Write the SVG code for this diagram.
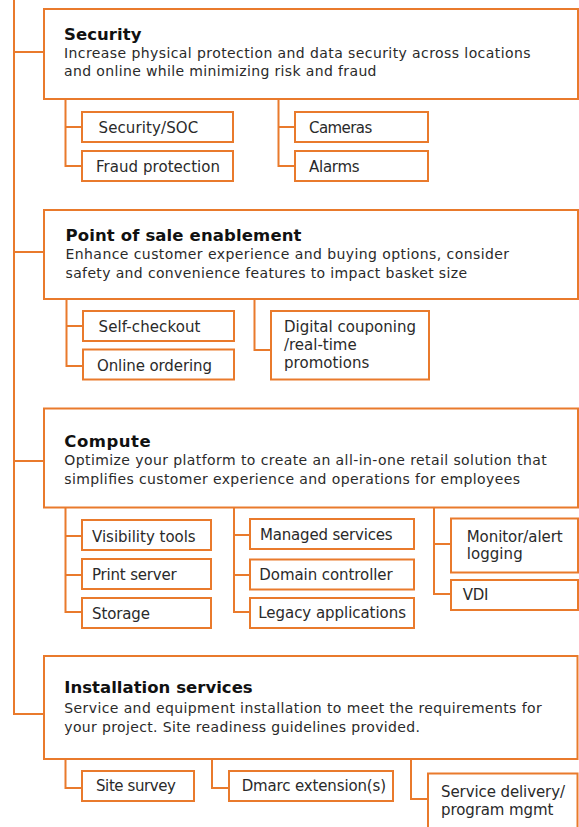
<svg xmlns="http://www.w3.org/2000/svg" width="579" height="827" viewBox="0 0 579 827">
<style>
.box{fill:#fff;stroke:#E97A2C;stroke-width:2}
.ln{fill:none;stroke:#E97A2C;stroke-width:2}
text{font-family:"DejaVu Sans","Open Sans",sans-serif}
.t{font-size:16.5px;font-weight:bold;fill:#111}
.d{font-size:14px;fill:#2a2a2a}
.i{font-size:15px;fill:#2a2a2a}
</style>
<rect width="579" height="827" fill="#fff"/>
<g id="connectors">
<path class="ln" d="M14,0 V714 H44"/>
<path class="ln" d="M14,52 H44 M14,252 H44 M14,461 H44"/>
<path class="ln" d="M65.5,99 V166 H82 M65.5,127 H82"/>
<path class="ln" d="M278.5,99 V166 H295 M278.5,127 H295"/>
<path class="ln" d="M66.5,299 V366 H83 M66.5,326 H83"/>
<path class="ln" d="M254.5,299 V350 H271"/>
<path class="ln" d="M65.5,507 V612 H82 M65.5,536 H82 M65.5,575 H82"/>
<path class="ln" d="M234,507 V612 H250 M234,535 H250 M234,575 H250"/>
<path class="ln" d="M434,507 V594 H451 M434,544 H451"/>
<path class="ln" d="M65.5,759 V788 H82"/>
<path class="ln" d="M212,759 V788 H229"/>
<path class="ln" d="M411,759 V799 H428"/>
</g>
<g id="security">
<rect class="box" x="44" y="9" width="534" height="90"/>
<text class="t" x="64" y="39.5" textLength="77.5" lengthAdjust="spacing">Security</text>
<text class="d" x="64" y="57.7" textLength="466.5" lengthAdjust="spacing">Increase physical protection and data security across locations</text>
<text class="d" x="64" y="76" textLength="312.5" lengthAdjust="spacing">and online while minimizing risk and fraud</text>
</g>
<g id="security-soc"><rect class="box" x="82" y="112" width="151" height="30"/><text class="i" x="98.5" y="133" textLength="99.7" lengthAdjust="spacing">Security/SOC</text></g>
<g id="fraud-protection"><rect class="box" x="82" y="151" width="151" height="30"/><text class="i" x="96" y="172" textLength="124" lengthAdjust="spacing">Fraud protection</text></g>
<g id="cameras"><rect class="box" x="295" y="112" width="133" height="30"/><text class="i" x="309" y="133" textLength="63.3" lengthAdjust="spacing">Cameras</text></g>
<g id="alarms"><rect class="box" x="295" y="151" width="133" height="30"/><text class="i" x="309" y="172" textLength="50.7" lengthAdjust="spacing">Alarms</text></g>
<g id="pos">
<rect class="box" x="44" y="210" width="534" height="89"/>
<text class="t" x="65.5" y="240.7" textLength="236" lengthAdjust="spacing">Point of sale enablement</text>
<text class="d" x="65.5" y="259.3" textLength="443.6" lengthAdjust="spacing">Enhance customer experience and buying options, consider</text>
<text class="d" x="65.5" y="278.3" textLength="401.6" lengthAdjust="spacing">safety and convenience features to impact basket size</text>
</g>
<g id="self-checkout"><rect class="box" x="83" y="311" width="151" height="30"/><text class="i" x="98.5" y="331.7" textLength="102" lengthAdjust="spacing">Self-checkout</text></g>
<g id="online-ordering"><rect class="box" x="83" y="349.5" width="151" height="30"/><text class="i" x="97" y="370.7" textLength="115" lengthAdjust="spacing">Online ordering</text></g>
<g id="digital-couponing"><rect class="box" x="271" y="311" width="158" height="68.5"/>
<text class="i" x="284" y="331.7" textLength="132" lengthAdjust="spacing">Digital couponing</text><text class="i" x="284" y="350" textLength="72.7" lengthAdjust="spacing">/real-time</text><text class="i" x="284" y="367.7" textLength="85.3" lengthAdjust="spacing">promotions</text></g>
<g id="compute">
<rect class="box" x="44" y="408.5" width="534" height="99"/>
<text class="t" x="64.3" y="446.7" textLength="86.4" lengthAdjust="spacing">Compute</text>
<text class="d" x="64.3" y="465" textLength="482.4" lengthAdjust="spacing">Optimize your platform to create an all-in-one retail solution that</text>
<text class="d" x="64.3" y="484" textLength="455.7" lengthAdjust="spacing">simplifies customer experience and operations for employees</text>
</g>
<g id="visibility-tools"><rect class="box" x="82" y="520" width="129" height="30"/><text class="i" x="92" y="541.7" textLength="103.7" lengthAdjust="spacing">Visibility tools</text></g>
<g id="print-server"><rect class="box" x="82" y="559" width="129" height="30"/><text class="i" x="92" y="580" textLength="84.7" lengthAdjust="spacing">Print server</text></g>
<g id="storage"><rect class="box" x="82" y="598" width="129" height="30"/><text class="i" x="92" y="619" textLength="58" lengthAdjust="spacing">Storage</text></g>
<g id="managed-services"><rect class="box" x="250" y="519" width="164" height="30"/><text class="i" x="260" y="540" textLength="132.7" lengthAdjust="spacing">Managed services</text></g>
<g id="domain-controller"><rect class="box" x="250" y="559.5" width="164" height="30"/><text class="i" x="259.3" y="580" textLength="133.4" lengthAdjust="spacing">Domain controller</text></g>
<g id="legacy-applications"><rect class="box" x="250" y="598" width="164" height="30"/><text class="i" x="258.3" y="618.3" textLength="147.7" lengthAdjust="spacing">Legacy applications</text></g>
<g id="monitor-alert"><rect class="box" x="451" y="518.5" width="127" height="54"/><text class="i" x="466.7" y="541.7" textLength="96" lengthAdjust="spacing">Monitor/alert</text><text class="i" x="466.7" y="559.3" textLength="56" lengthAdjust="spacing">logging</text></g>
<g id="vdi"><rect class="box" x="451" y="580" width="127" height="30"/><text class="i" x="462.7" y="600" textLength="25.7" lengthAdjust="spacing">VDI</text></g>
<g id="installation">
<rect class="box" x="44" y="656" width="533.5" height="103"/>
<text class="t" x="64.3" y="693.3" textLength="188.4" lengthAdjust="spacing">Installation services</text>
<text class="d" x="64.3" y="712.7" textLength="477.4" lengthAdjust="spacing">Service and equipment installation to meet the requirements for</text>
<text class="d" x="64.3" y="731.7" textLength="355.7" lengthAdjust="spacing">your project. Site readiness guidelines provided.</text>
</g>
<g id="site-survey"><rect class="box" x="82" y="771" width="112" height="30"/><text class="i" x="96" y="790.7" textLength="80" lengthAdjust="spacing">Site survey</text></g>
<g id="dmarc"><rect class="box" x="229" y="771" width="164" height="30"/><text class="i" x="241.7" y="790.7" textLength="144.3" lengthAdjust="spacing">Dmarc extension(s)</text></g>
<g id="service-delivery"><rect class="box" x="428" y="773.5" width="149.5" height="60"/><text class="i" x="441" y="796.7" textLength="124" lengthAdjust="spacing">Service delivery/</text><text class="i" x="441" y="815" textLength="112.3" lengthAdjust="spacing">program mgmt</text></g>
</svg>
